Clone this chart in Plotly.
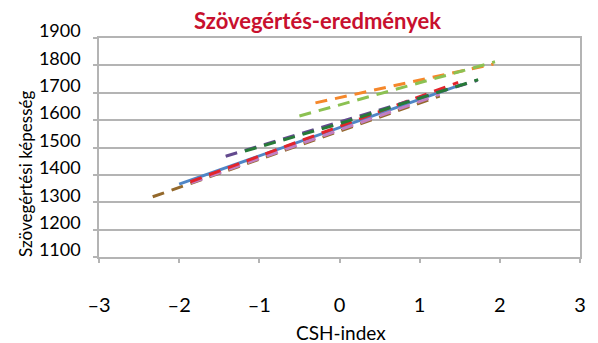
import plotly.graph_objects as go

# Reading-score trend lines by socio-economic (CSH) index
x_blue = [-2.0, 1.52]
y_blue = [1366, 1730]

x_brown = [-2.33, 1.25]
y_brown = [1320, 1688]

x_pink = [-1.85, 1.25]
y_pink = [1371, 1694]

x_red = [-1.86, 1.48]
y_red = [1375, 1738]

x_purple = [-1.42, 1.72]
y_purple = [1468, 1745]

x_darkgreen = [-1.18, 0.0, 1.73]
y_darkgreen = [1487, 1587, 1748]

x_orange = [-0.30, 1.92]
y_orange = [1663, 1805]

x_lightgreen = [-0.50, 1.94]
y_lightgreen = [1615, 1813]

x_tickvals = [-3, -2, -1, 0, 1, 2, 3]
x_ticktext = ["–3", "–2", "–1", "0", "1", "2", "3"]
y_tickvals = [1100, 1200, 1300, 1400, 1500, 1600, 1700, 1800, 1900]

FONT = "Lato"
GRID = "#b4b4b4"
DASH = "12px,8px"

fig = go.Figure()

def add_line(xs, ys, color, dash):
    fig.add_trace(go.Scatter(
        x=xs, y=ys, mode="lines",
        line=dict(color=color, width=3, dash=dash),
        hoverinfo="skip", showlegend=False,
    ))

add_line(x_brown, y_brown, "#94692c", DASH)
add_line(x_blue, y_blue, "#4f86c6", "solid")
add_line(x_pink, y_pink, "#c27ec3", DASH)
add_line(x_red, y_red, "#e3242b", DASH)
add_line(x_purple, y_purple, "#634a8e", DASH)
add_line(x_darkgreen, y_darkgreen, "#277a38", DASH)
add_line(x_orange, y_orange, "#f5872a", DASH)
add_line(x_lightgreen, y_lightgreen, "#8cc152", DASH)

L, R, T, B = 99, 12, 38, 86
W, H = 598, 343
pw = W - L - R
ph = H - T - B

fig.update_layout(
    width=W, height=H,
    margin=dict(l=L, r=R, t=T, b=B),
    paper_bgcolor="white", plot_bgcolor="white",
    font=dict(family=FONT, color="#000000"),
    xaxis=dict(
        range=[-3, 3], tickvals=x_tickvals, ticktext=x_ticktext,
        showgrid=False, zeroline=False,
        showline=True, linecolor=GRID, linewidth=1.5, mirror=True,
        ticks="outside", ticklen=4, tickcolor=GRID, tickwidth=1.5,
        tickfont=dict(size=20, family=FONT),
        ticklabelstandoff=25,
    ),
    yaxis=dict(
        range=[1100, 1900], tickvals=y_tickvals,
        showgrid=True, gridcolor=GRID, gridwidth=1.5, zeroline=False,
        showline=True, linecolor=GRID, linewidth=1.5, mirror=True,
        ticks="outside", ticklen=4, tickcolor=GRID, tickwidth=1.5,
        tickfont=dict(size=18, family=FONT),
        ticklabelstandoff=9, ticklabelshift=-7,
    ),
    annotations=[
        dict(text="<b>Szövegértés-eredmények</b>", xref="paper", yref="paper",
             x=(320 - L) / pw, y=1 + (T - 20) / ph,
             xanchor="center", yanchor="middle", showarrow=False,
             font=dict(size=22, color="#c8102e", family=FONT)),
        dict(text="Szövegértési képesség", xref="paper", yref="paper",
             x=(24 - L) / pw, y=1 - (174 - T) / ph, textangle=-90,
             xanchor="center", yanchor="middle", showarrow=False,
             font=dict(size=17, family=FONT)),
        dict(text="CSH-index", xref="paper", yref="paper",
             x=(344 - L) / pw, y=-(332 - (H - B)) / ph,
             xanchor="center", yanchor="middle", showarrow=False,
             font=dict(size=19, family=FONT)),
    ],
)

fig.write_html("out.html")
